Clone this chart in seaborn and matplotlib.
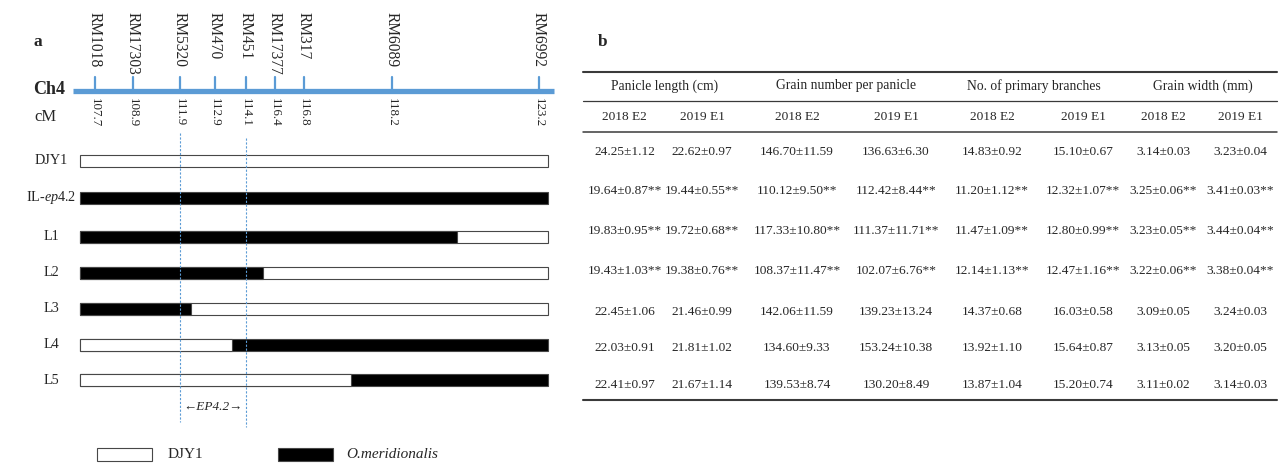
import matplotlib
matplotlib.use("Agg")
import matplotlib.pyplot as plt
from matplotlib.patches import Rectangle
import seaborn as sns
import pandas as pd

# ---------------- data ----------------
markers = ["RM1018", "RM17303", "RM5320", "RM470", "RM451", "RM17377", "RM317", "RM6089", "RM6992"]
marker_cm = ["107.7", "108.9", "111.9", "112.9", "114.1", "116.4", "116.8", "118.2", "123.2"]
marker_pos = [15, 53, 100, 135, 166, 195, 224, 312, 459]   # position along the drawn map
map_length = 468
lines = ["DJY1", "IL-ep4.2", "L1", "L2", "L3", "L4", "L5"]
base_genotype = ["DJY1", "O.meridionalis", "DJY1", "DJY1", "DJY1", "O.meridionalis", "O.meridionalis"]
prefix_genotype = [None, None, "O.meridionalis", "O.meridionalis", "O.meridionalis", "DJY1", "DJY1"]
prefix_end = [0, 0, 377, 183, 111, 152, 271]
ep_interval = (100, 166)   # RM5320 .. RM451

traits = ["Panicle length (cm)", "Grain number per panicle", "No. of primary branches", "Grain width (mm)"]
envs = ["2018 E2", "2019 E1"]
significance = ["", "**", "**", "**", "", "", ""]
pl_2018_mean = [24.25, 19.64, 19.83, 19.43, 22.45, 22.03, 22.41]
pl_2018_sd = [1.12, 0.87, 0.95, 1.03, 1.06, 0.91, 0.97]
pl_2019_mean = [22.62, 19.44, 19.72, 19.38, 21.46, 21.81, 21.67]
pl_2019_sd = [0.97, 0.55, 0.68, 0.76, 0.99, 1.02, 1.14]
gn_2018_mean = [146.70, 110.12, 117.33, 108.37, 142.06, 134.60, 139.53]
gn_2018_sd = [11.59, 9.50, 10.80, 11.47, 11.59, 9.33, 8.74]
gn_2019_mean = [136.63, 112.42, 111.37, 102.07, 139.23, 153.24, 130.20]
gn_2019_sd = [6.30, 8.44, 11.71, 6.76, 13.24, 10.38, 8.49]
pb_2018_mean = [14.83, 11.20, 11.47, 12.14, 14.37, 13.92, 13.87]
pb_2018_sd = [0.92, 1.12, 1.09, 1.13, 0.68, 1.10, 1.04]
pb_2019_mean = [15.10, 12.32, 12.80, 12.47, 16.03, 15.64, 15.20]
pb_2019_sd = [0.67, 1.07, 0.99, 1.16, 0.58, 0.87, 0.74]
gw_2018_mean = [3.14, 3.25, 3.23, 3.22, 3.09, 3.13, 3.11]
gw_2018_sd = [0.03, 0.06, 0.05, 0.06, 0.05, 0.05, 0.02]
gw_2019_mean = [3.23, 3.41, 3.44, 3.38, 3.24, 3.20, 3.14]
gw_2019_sd = [0.04, 0.03, 0.04, 0.04, 0.03, 0.05, 0.03]

# ---------------- style / layout ----------------
sns.set_theme(style="white")
plt.rcParams["font.family"] = ["Liberation Serif", "DejaVu Serif"]
plt.rcParams["mathtext.fontset"] = "custom"
plt.rcParams["mathtext.rm"] = "Liberation Serif"
plt.rcParams["mathtext.it"] = "Liberation Serif:italic"

W, H = 1279, 463
MAP_X0 = 80                      # pixel where the map starts
row_y = [161, 198, 237, 273, 309, 345, 380]   # layout: row centres (px)
BAR_H_REL = 12.5 / 35
BLUE = "#5B9BD5"
EDGE = "#474747"
geno_colors = {"DJY1": "white", "O.meridionalis": "black"}

fig = plt.figure(figsize=(W / 100, H / 100), dpi=100)
axA = fig.add_axes([0, 0, 1, 1])
axB = fig.add_axes([0, 0, 1, 1])
for ax in (axA, axB):
    ax.set_facecolor("none")

# ---------------- panel a ----------------
df_base = pd.DataFrame({"y": row_y, "end": [map_length] * len(lines), "genotype": base_genotype})
sns.barplot(data=df_base, x="end", y="y", hue="genotype", palette=geno_colors, orient="y",
            native_scale=True, dodge=False, width=BAR_H_REL, errorbar=None, edgecolor=EDGE,
            linewidth=0.8, legend=False, ax=axA)
df_pre = pd.DataFrame({"y": row_y, "end": prefix_end, "genotype": prefix_genotype}).dropna()
sns.barplot(data=df_pre, x="end", y="y", hue="genotype", palette=geno_colors, orient="y",
            native_scale=True, dodge=False, width=BAR_H_REL * 35 / 36, errorbar=None, edgecolor=EDGE,
            linewidth=0.8, legend=False, ax=axA)

# chromosome
axA.plot([-7, 474], [90.5, 90.5], color=BLUE, lw=3.8, solid_capstyle="butt")
for pos, name, cm in zip(marker_pos, markers, marker_cm):
    axA.plot([pos, pos], [77, 90], color=BLUE, lw=1.6)
    axA.text(pos, 12, name, rotation=270, ha="center", va="top", fontsize=11.2)
    axA.text(pos, 98, cm, rotation=270, ha="center", va="top", fontsize=9.4)

axA.text(33 - MAP_X0, 90, "Ch4", fontsize=13, fontweight="bold", ha="left", va="center")
axA.text(34 - MAP_X0, 117, "cM", fontsize=12, ha="left", va="center")
axA.text(33 - MAP_X0, 42, "a", fontsize=12.5, fontweight="bold", ha="left", va="center")

# EP4.2 interval
axA.plot([ep_interval[0]] * 2, [133, 422], color=BLUE, lw=0.8, ls=(0, (2, 1.5)))
axA.plot([ep_interval[1]] * 2, [138, 427], color=BLUE, lw=0.8, ls=(0, (2, 1.5)))
axA.text((ep_interval[0] + ep_interval[1]) / 2, 407, "\u2190EP4.2\u2192", fontsize=9.5,
         style="italic", ha="center", va="center")

# line labels
for y, name in zip(row_y, lines):
    lab = r"IL-$\mathit{ep4.2}$" if name == "IL-ep4.2" else name
    axA.text(51 - MAP_X0, y, lab, fontsize=10.2, ha="center", va="center")

axA.set_xlim(-MAP_X0, W - MAP_X0)
axA.set_ylim(H, 0)
axA.axis("off")

# legend (pixel coords)
axB.add_patch(Rectangle((97, 448), 55, 13, facecolor="white", edgecolor=EDGE, lw=0.8))
axB.text(168, 455, "DJY1", fontsize=11, ha="left", va="center")
axB.add_patch(Rectangle((278, 448), 55, 13, facecolor="black", edgecolor=EDGE, lw=0.8))
axB.text(346, 455, "O.meridionalis", fontsize=11, style="italic", ha="left", va="center")

# ---------------- panel b (table) ----------------
axB.text(598, 42, "b", fontsize=12.5, fontweight="bold", ha="left", va="center")
RULE = "#3a3a3a"
TX0, TX1 = 583, 1277
axB.plot([TX0, TX1], [71.5, 71.5], color=RULE, lw=1.5)
axB.plot([TX0, TX1], [101, 101], color=RULE, lw=0.9)
axB.plot([TX0, TX1], [131.5, 131.5], color=RULE, lw=1.1)
axB.plot([TX0, TX1], [400, 400], color=RULE, lw=1.5)

group_x = [665, 846, 1034, 1202.5]
col_x = [624.5, 702, 797, 896, 992, 1083, 1163.5, 1240]
for gx, t in zip(group_x, traits):
    axB.text(gx, 86, t, fontsize=9.8, ha="center", va="center")
for i, cx in enumerate(col_x):
    axB.text(cx, 117, envs[i % 2], fontsize=9.6, ha="center", va="center")

columns = [(pl_2018_mean, pl_2018_sd), (pl_2019_mean, pl_2019_sd),
           (gn_2018_mean, gn_2018_sd), (gn_2019_mean, gn_2019_sd),
           (pb_2018_mean, pb_2018_sd), (pb_2019_mean, pb_2019_sd),
           (gw_2018_mean, gw_2018_sd), (gw_2019_mean, gw_2019_sd)]
table_row_y = [152, 190.5, 231.5, 271, 312, 348, 384.5]
for cx, (means, sds) in zip(col_x, columns):
    for ry, m, s, sig in zip(table_row_y, means, sds, significance):
        axB.text(cx, ry, f"{m:.2f}\u00b1{s:.2f}{sig}", fontsize=9.6, ha="center", va="center")

axB.set_xlim(0, W)
axB.set_ylim(H, 0)
axB.axis("off")

fig.savefig("out.png", dpi=100)
